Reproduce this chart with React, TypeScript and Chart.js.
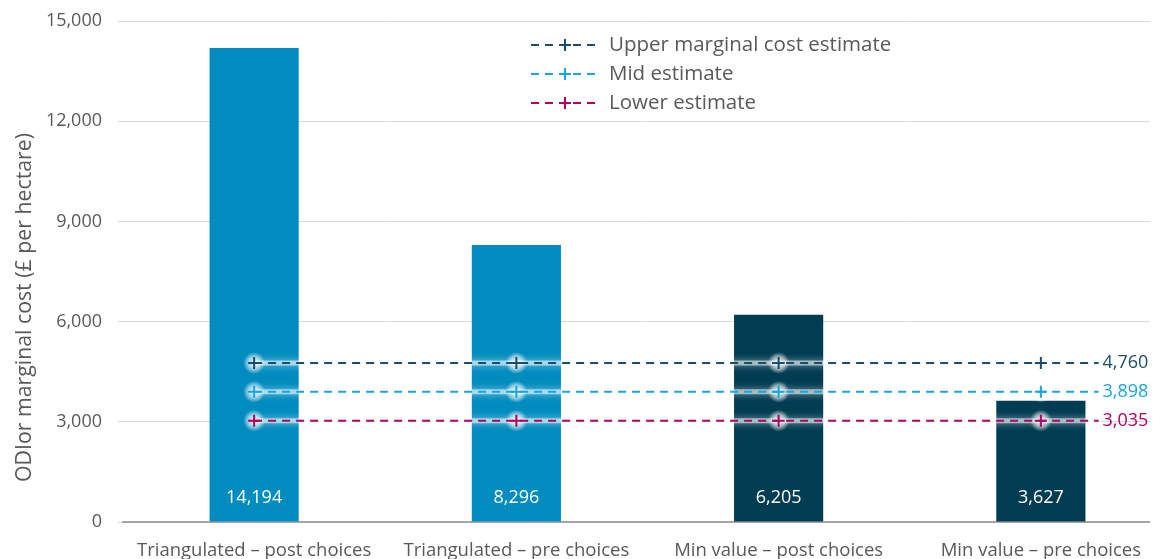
import React, { useEffect, useRef } from "react";
import { Chart, registerables } from "chart.js";

Chart.register(...registerables);

const CATEGORIES = [
  "Triangulated – post choices",
  "Triangulated – pre choices",
  "Min value – post choices",
  "Min value – pre choices",
];
const BAR_VALUES = [14194, 8296, 6205, 3627];
const BAR_COLORS = ["#008cbf", "#008cbf", "#003c52", "#003c52"];

const UPPER_ESTIMATE = [4760, 4760, 4760, 4760];
const MID_ESTIMATE = [3898, 3898, 3898, 3898];
const LOWER_ESTIMATE = [3035, 3035, 3035, 3035];

const LINE_SERIES = [
  { label: "Upper marginal cost estimate", values: UPPER_ESTIMATE, color: "#1a4d6b" },
  { label: "Mid estimate", values: MID_ESTIMATE, color: "#19a5e0" },
  { label: "Lower estimate", values: LOWER_ESTIMATE, color: "#b3005f" },
];

const Y_MIN = 0;
const Y_MAX = 15000;
const Y_STEP = 3000;
const LINE_EXTENSION = 0.22;

const Y_TITLE = "ODIor marginal cost (£ per hectare)";
const FONT = "'Open Sans', sans-serif";
const TEXT_GREY = "#595959";

const fmt = (v: number) => v.toLocaleString("en-GB");

export default function App() {
  const canvasRef = useRef<HTMLCanvasElement | null>(null);

  useEffect(() => {
    if (!canvasRef.current) return;

    const lineDatasets = LINE_SERIES.map((s) => {
      const pts = s.values.map((v, i) => ({ x: i, y: v }));
      const last = s.values[s.values.length - 1];
      pts.push({ x: s.values.length - 1 + LINE_EXTENSION, y: last });
      return {
        type: "line" as const,
        label: s.label,
        data: pts,
        xAxisID: "x2",
        borderColor: s.color,
        backgroundColor: s.color,
        borderWidth: 2,
        borderDash: [8, 6],
        pointStyle: "cross" as const,
        pointRadius: pts.map((_, i) => (i < s.values.length ? 6 : 0)),
        pointBorderWidth: 2,
        pointBorderColor: s.color,
        fill: false,
        order: 1,
      };
    });

    const glowPlugin = {
      id: "glow",
      beforeDatasetDraw(chart: any, args: any) {
        const ds = chart.data.datasets[args.index];
        if (ds.type !== "line") return;
        const ctx = chart.ctx;
        const meta = chart.getDatasetMeta(args.index);
        const pts = meta.data;
        ctx.save();
        // soft continuous band under the line
        ctx.strokeStyle = "rgba(255,255,255,0.55)";
        ctx.lineWidth = 5;
        ctx.shadowColor = "rgba(255,255,255,0.9)";
        ctx.shadowBlur = 7;
        ctx.beginPath();
        ctx.moveTo(pts[0].x, pts[0].y);
        ctx.lineTo(pts[pts.length - 1].x, pts[pts.length - 1].y);
        ctx.stroke();
        ctx.shadowBlur = 0;
        // brighter blobs at the markers
        pts.forEach((el: any, i: number) => {
          if (i >= pts.length - 1) return;
          const g = ctx.createRadialGradient(el.x, el.y, 0, el.x, el.y, 11);
          g.addColorStop(0, "rgba(255,255,255,0.9)");
          g.addColorStop(0.55, "rgba(255,255,255,0.6)");
          g.addColorStop(1, "rgba(255,255,255,0)");
          ctx.fillStyle = g;
          ctx.beginPath();
          ctx.arc(el.x, el.y, 11, 0, Math.PI * 2);
          ctx.fill();
        });
        ctx.restore();
      },
    };

    const labelsPlugin = {
      id: "labels",
      afterDatasetsDraw(chart: any) {
        const ctx = chart.ctx;
        ctx.save();
        const barMeta = chart.getDatasetMeta(0);
        ctx.font = `18px ${FONT}`;
        ctx.fillStyle = "#ffffff";
        ctx.textAlign = "center";
        ctx.textBaseline = "middle";
        barMeta.data.forEach((el: any, i: number) => {
          ctx.fillText(fmt(BAR_VALUES[i]), el.x, el.base - 24);
        });
        ctx.textAlign = "left";
        LINE_SERIES.forEach((s, k) => {
          const meta = chart.getDatasetMeta(k + 1);
          const el = meta.data[meta.data.length - 1];
          ctx.fillStyle = s.color;
          ctx.fillText(fmt(s.values[s.values.length - 1]), el.x + 4, el.y);
        });
        const a = chart.chartArea;
        ctx.save();
        ctx.translate(17, (a.top + a.bottom) / 2 + 36);
        ctx.rotate(-Math.PI / 2);
        ctx.font = `21.3px ${FONT}`;
        ctx.fillStyle = TEXT_GREY;
        ctx.textAlign = "center";
        ctx.textBaseline = "middle";
        ctx.fillText(Y_TITLE, 0, 0);
        ctx.restore();
        ctx.restore();
      },
    };

    const legendPlugin = {
      id: "customLegend",
      afterDraw(chart: any) {
        const ctx = chart.ctx;
        ctx.save();
        const x0 = 523;
        const y0 = 37;
        const rowH = 29;
        LINE_SERIES.forEach((s, i) => {
          const y = y0 + i * rowH;
          ctx.strokeStyle = s.color;
          ctx.lineWidth = 2;
          ctx.setLineDash([8, 6]);
          ctx.beginPath();
          ctx.moveTo(x0, y);
          ctx.lineTo(x0 + 68, y);
          ctx.stroke();
          ctx.setLineDash([]);
          ctx.beginPath();
          ctx.moveTo(x0 + 28, y);
          ctx.lineTo(x0 + 40, y);
          ctx.moveTo(x0 + 34, y - 6);
          ctx.lineTo(x0 + 34, y + 6);
          ctx.stroke();
          ctx.fillStyle = TEXT_GREY;
          ctx.font = `20.5px ${FONT}`;
          ctx.textAlign = "left";
          ctx.textBaseline = "middle";
          ctx.fillText(s.label, x0 + 78, y);
        });
        ctx.restore();
      },
    };

    const chart = new Chart(canvasRef.current, {
      type: "bar",
      data: {
        labels: CATEGORIES,
        datasets: [
          {
            type: "bar",
            label: "Marginal cost",
            data: BAR_VALUES,
            backgroundColor: BAR_COLORS,
            barPercentage: 0.34,
            categoryPercentage: 1,
            grouped: false,
            order: 2,
          } as any,
          ...(lineDatasets as any[]),
        ],
      },
      options: {
        animation: false,
        responsive: true,
        maintainAspectRatio: false,
        layout: { padding: 0 },
        plugins: {
          legend: { display: false },
          tooltip: { enabled: false },
        },
        scales: {
          x: {
            type: "category",
            offset: true,
            grid: { display: false, drawTicks: false },
            border: { display: true, color: "#a6a6a6", width: 2 },
            ticks: {
              color: TEXT_GREY,
              font: { family: FONT, size: 18.5 },
              padding: 18,
              maxRotation: 0,
              autoSkip: false,
            },
            afterFit(scale: any) {
              scale.height = 37;
            },
          },
          x2: {
            type: "linear",
            display: false,
            offset: false,
            min: -0.5,
            max: CATEGORIES.length - 0.5,
          },
          y: {
            min: Y_MIN,
            max: Y_MAX,
            grid: { color: "#d9d9d9", lineWidth: 1, drawTicks: true, tickLength: 5, tickColor: "#d9d9d9" },
            border: { display: false },
            ticks: {
              stepSize: Y_STEP,
              color: TEXT_GREY,
              font: { family: FONT, size: 18 },
              padding: 16,
              callback: (v: any) => fmt(Number(v)),
            },
            title: { display: false },
            afterFit(scale: any) {
              scale.width = 115;
              scale.paddingTop = 13;
              scale.paddingBottom = 0;
            },
          },
        },
      } as any,
      plugins: [glowPlugin, labelsPlugin, legendPlugin],
    });

    return () => chart.destroy();
  }, []);

  return (
    <div style={{ width: "100%", height: 551, overflow: "hidden" }}>
      <div style={{ position: "relative", width: 1172, height: 551 }}>
        <canvas ref={canvasRef} />
      </div>
    </div>
  );
}
